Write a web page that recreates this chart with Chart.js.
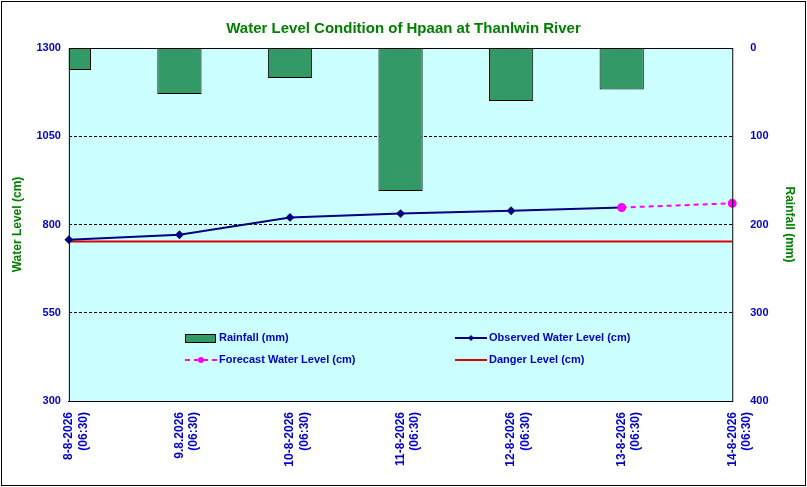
<!DOCTYPE html>
<html>
<head>
<meta charset="utf-8">
<script src="https://cdn.jsdelivr.net/npm/chart.js@4"></script>
<style>
  body { margin: 0; background: #fff; }
  #wrap { width: 807px; height: 487px; }
</style>
</head>
<body>
<div id="wrap"><canvas id="chart-hpaan"></canvas></div>
<script>
// datos
var dates = [['8-8-2026', '(06:30)'], ['9.8.2026', '(06:30)'], ['10-8-2026', '(06:30)'], ['11-8-2026', '(06:30)'],
             ['12-8-2026', '(06:30)'], ['13-8-2026', '(06:30)'], ['14-8-2026', '(06:30)']];
var rainfall = [25, 52, 34, 162, 60, 47, null];
var observed = [757, 771, 820, 831, 839, 848, null];
var forecast = [null, null, null, null, null, 848, 860];
var danger = [752, 752, 752, 752, 752, 752, 752];

var blue = '#0000CC';
var green = '#008000';

// fondo cian del area de trazado + marco
var bgPlugin = {
    id: 'bg',
    beforeDraw: function (chart) {
        var c = chart.ctx, a = chart.chartArea;
        c.save();
        c.fillStyle = '#fff';
        c.fillRect(0, 0, chart.width, chart.height);
        c.fillStyle = '#CCFFFF';
        c.fillRect(a.left, a.top, a.right - a.left, a.bottom - a.top);
        c.restore();
    },
    afterDraw: function (chart) {
        var c = chart.ctx, a = chart.chartArea;
        c.save();
        c.strokeStyle = '#000';
        c.lineWidth = 1;
        c.strokeRect(a.left + 0.5, a.top + 0.5, a.right - a.left, a.bottom - a.top);
        c.strokeRect(1.5, 1.5, chart.width - 3, chart.height - 3);
        c.restore();
    }
};

// leyenda dentro del grafico, dos columnas
var legendPlugin = {
    id: 'innerLegend',
    afterDraw: function (chart) {
        var c = chart.ctx;
        var items = [
            { x: 185, y: 338, ds: 0 },
            { x: 455, y: 338, ds: 1 },
            { x: 185, y: 360, ds: 2 },
            { x: 455, y: 360, ds: 3 }
        ];
        c.save();
        c.font = 'bold 11px Arial, "Liberation Sans"';
        c.textBaseline = 'middle';
        items.forEach(function (it) {
            var ds = chart.data.datasets[it.ds];
            if (ds.type === 'bar') {
                c.fillStyle = ds.backgroundColor;
                c.fillRect(it.x, it.y - 4, 30, 8);
                c.strokeStyle = '#000';
                c.strokeRect(it.x + 0.5, it.y - 3.5, 30, 8);
            } else {
                c.strokeStyle = ds.borderColor;
                c.lineWidth = 2;
                c.setLineDash(ds.borderDash || []);
                c.beginPath();
                c.moveTo(it.x, it.y);
                c.lineTo(it.x + 32, it.y);
                c.stroke();
                c.setLineDash([]);
                if (ds.pointRadius > 0) {
                    c.fillStyle = ds.pointBackgroundColor;
                    c.beginPath();
                    if (ds.pointStyle === 'rectRot') {
                        c.moveTo(it.x + 16, it.y - 3); c.lineTo(it.x + 19, it.y);
                        c.lineTo(it.x + 16, it.y + 3); c.lineTo(it.x + 13, it.y);
                    } else {
                        c.arc(it.x + 16, it.y, 3, 0, Math.PI * 2);
                    }
                    c.fill();
                }
            }
            c.fillStyle = blue;
            c.fillText(ds.label, it.x + 34, it.y);
        });
        c.restore();
    }
};

var ctx = document.getElementById('chart-hpaan');
var chartHpaan = new Chart(ctx, {
    data: {
        labels: dates,
        datasets: [
            {
                type: 'bar', label: 'Rainfall (mm)', data: rainfall, yAxisID: 'y1',
                backgroundColor: '#339966', borderColor: '#000', borderWidth: 1,
                barPercentage: 0.4, categoryPercentage: 1, order: 5
            },
            {
                type: 'line', label: 'Observed Water Level (cm)', data: observed, yAxisID: 'y',
                borderColor: '#000080', backgroundColor: '#000080', borderWidth: 2,
                pointStyle: 'rectRot', pointRadius: 3, pointBackgroundColor: '#000080',
                pointBorderColor: '#000080', order: 2
            },
            {
                type: 'line', label: 'Forecast Water Level (cm)', data: forecast, yAxisID: 'y',
                borderColor: '#FF00FF', borderWidth: 2, borderDash: [5, 4],
                pointStyle: 'circle', pointRadius: 3.5, pointBackgroundColor: '#FF00FF',
                pointBorderColor: '#FF00FF', order: 1
            },
            {
                type: 'line', label: 'Danger Level (cm)', data: danger, yAxisID: 'y',
                borderColor: '#E00000', borderWidth: 2, pointRadius: 0, order: 3
            }
        ]
    },
    options: {
        responsive: true,
        maintainAspectRatio: false,
        animation: false,
        layout: { padding: { top: 8, right: 6, left: 6, bottom: 4 } },
        plugins: {
            legend: { display: false },
            tooltip: { enabled: false },
            title: {
                display: true,
                text: 'Water Level Condition of Hpaan at Thanlwin River',
                color: green,
                font: { family: 'Arial, "Liberation Sans"', size: 15, weight: 'bold' },
                padding: { top: 12, bottom: 10 }
            }
        },
        scales: {
            x: {
                offset: false,
                grid: { display: false },
                border: { color: '#000' },
                afterFit: function (axis) { axis.height = 82; },
                ticks: {
                    color: blue, maxRotation: 90, minRotation: 90, autoSkip: false,
                    font: { family: 'Arial, "Liberation Sans"', size: 12, weight: 'bold' }
                }
            },
            y: {
                position: 'left', min: 300, max: 1300,
                afterBuildTicks: function (axis) {
                    axis.ticks = [300, 550, 800, 1050, 1300].map(function (v) { return { value: v }; });
                },
                grid: { color: '#000', borderDash: [3, 2], drawTicks: false },
                border: { display: false, dash: [3, 2] },
                ticks: {
                    color: blue, padding: 8,
                    callback: function (v) { return String(v); },
                    font: { family: 'Arial, "Liberation Sans"', size: 11, weight: 'bold' }
                },
                title: {
                    display: true, text: 'Water Level (cm)', color: green,
                    font: { family: 'Arial, "Liberation Sans"', size: 12, weight: 'bold' }
                }
            },
            y1: {
                position: 'right', min: 0, max: 400, reverse: true,
                grid: { display: false },
                border: { display: false },
                ticks: {
                    stepSize: 100, color: blue, padding: 10,
                    font: { family: 'Arial, "Liberation Sans"', size: 11, weight: 'bold' }
                },
                title: {
                    display: true, text: 'Rainfall (mm)', color: green,
                    font: { family: 'Arial, "Liberation Sans"', size: 12, weight: 'bold' }
                }
            }
        }
    },
    plugins: [bgPlugin, legendPlugin]
});
</script>
</body>
</html>
